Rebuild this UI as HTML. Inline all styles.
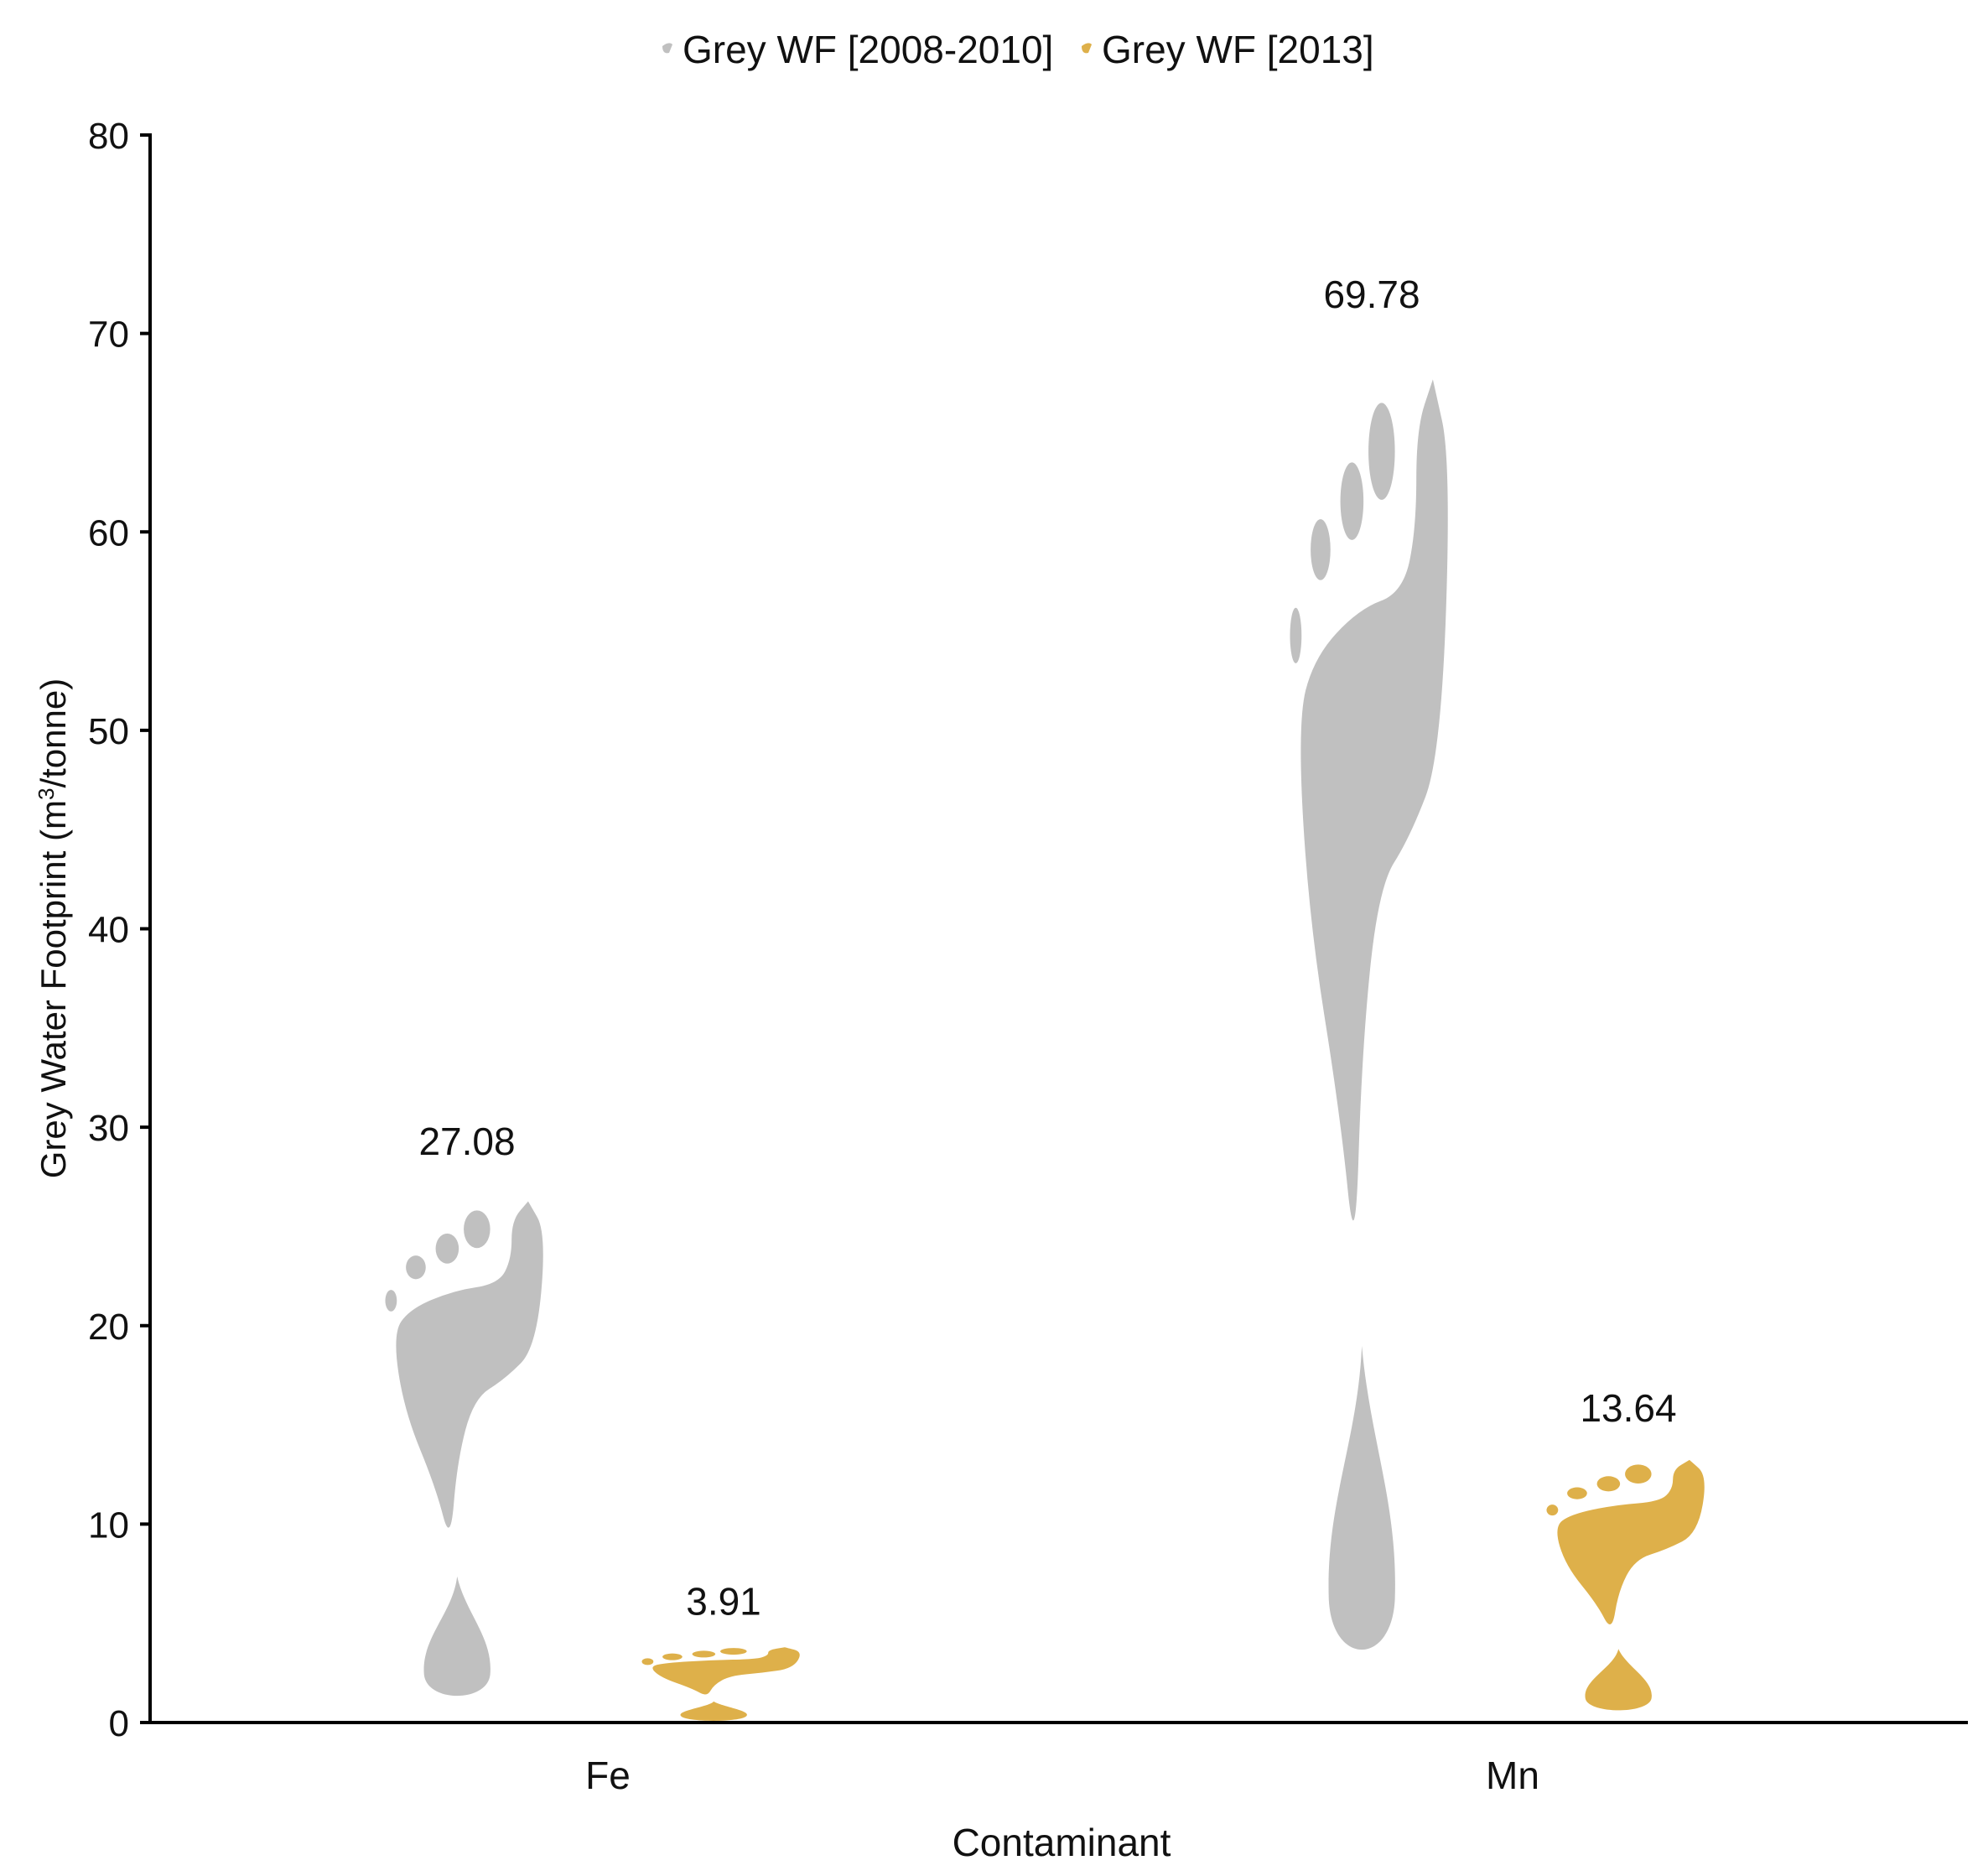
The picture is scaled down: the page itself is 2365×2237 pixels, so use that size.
<!DOCTYPE html>
<html><head><meta charset="utf-8"><style>
html,body{margin:0;padding:0;background:#fff;}
svg{display:block;font-family:"Liberation Sans",sans-serif;}
</style></head><body>
<svg id="chart" width="2365" height="2237" viewBox="0 0 2365 2237">
<g id="legend">
  <g>
    <path d="M790 55 q8 -6 12 -2 l-4 10 q-8 2 -8 -8z" fill="#c0c0c0"/>
    <text x="814" y="75" font-size="46" fill="#111">Grey WF [2008-2010]</text>
  </g>
  <g>
    <path d="M1290 55 q8 -6 12 -2 l-4 10 q-8 2 -8 -8z" fill="#deb04a"/>
    <text x="1314" y="75" font-size="46" fill="#111">Grey WF [2013]</text>
  </g>
</g>
<g id="axes"></g>
<g id="marks"></g>
<text x="1266" y="2213" font-size="46" text-anchor="middle" fill="#111">Contaminant</text>
<text transform="translate(78,1107) rotate(-90)" font-size="42" text-anchor="middle" fill="#111">Grey Water Footprint (m<tspan font-size="26" dy="-14">3</tspan><tspan dy="14">/tonne)</tspan></text>
</svg>
<script>
const categories = ["Fe", "Mn"];
const series2008 = [27.08, 69.78];
const series2013 = [3.91, 13.64];
const yTicks = [0, 10, 20, 30, 40, 50, 60, 70, 80];
const seriesNames = ["Grey WF [2008-2010]", "Grey WF [2013]"];

const NS = "http://www.w3.org/2000/svg";
const x0 = 179, x1 = 2347, y0 = 2054, yTop = 161;
const yMax = 80;
function y(v){ return y0 - v/yMax*(y0-yTop); }
const catCenters = [725, 1804];
function xCat(i){ return catCenters[i]; }
function mk(tag, attrs, parent){ const e=document.createElementNS(NS,tag); for(const k in attrs) e.setAttribute(k,attrs[k]); parent.appendChild(e); return e; }

const axes = document.getElementById('axes');
const ya = mk('line',{x1:x0,y1:yTop-2,x2:x0,y2:y0,stroke:'#000','stroke-width':4},axes);


const xa = mk('line',{x1:x0,y1:y0,x2:x1,y2:y0,stroke:'#000','stroke-width':4},axes);


yTicks.forEach(t=>{
  const tk = mk('line',{x1:x0-12,y1:y(t),x2:x0,y2:y(t),stroke:'#000','stroke-width':4},axes);
  
  
  const tl = mk('text',{x:x0-25,y:y(t)+16,'font-size':44,'text-anchor':'end',fill:'#111'},axes);
  tl.textContent = t;
  
  
});
categories.forEach((c,i)=>{
  const tl = mk('text',{x:xCat(i),y:2133,'font-size':46,'text-anchor':'middle',fill:'#111'},axes);
  tl.textContent = c;
  
  
});

const sole = [[0.87,0.97],[0.98,0.911],[0.92,0.698],[0.73,0.639],[0.54,0.603],[0.44,0.485],[0.40,0.331],[0.31,0.438],[0.12,0.58],[0.05,0.722],[0.15,0.769],[0.42,0.804],[0.69,0.816],[0.77,0.863],[0.77,0.934]];
const toes = [[0.56,0.918,0.08,0.035],[0.38,0.882,0.07,0.028],[0.19,0.847,0.06,0.022],[0.04,0.785,0.035,0.02]];
const W = 197;
const marks = document.getElementById('marks');
function foot(cx, val, color, name){
  const g = mk('g',{},marks);
  
  
  const left = cx - W/2;
  const P = ([u,v]) => [left+u*W, y(v*val)];
  let pts = sole.map(P);
  let d = 'M'+pts[0].join(' ');
  for(let k=0;k<pts.length;k++){
    const a=pts[k], b=pts[(k+1)%pts.length];
    const m=[(a[0]+b[0])/2,(a[1]+b[1])/2];
    d += ' Q'+a.join(' ')+' '+m.join(' ');
  }
  d+='Z';
  mk('path',{d:d,fill:color},g);
  toes.forEach(([u,v,ru,rv])=>{
    mk('ellipse',{cx:left+u*W,cy:y(v*val),rx:ru*W,ry:Math.max(rv*val*23.67,4),fill:color},g);
  });
  const ht=P([0.44,0.272]), hb=P([0.44,0.043]);
  const hh=hb[1]-ht[1];
  const hd='M'+ht.join(' ')+' C'+(ht[0]+10)+' '+(ht[1]+hh*0.3)+' '+(left+0.66*W)+' '+(ht[1]+hh*0.5)+' '+(left+0.64*W)+' '+(ht[1]+hh*0.8)+
    ' C'+(left+0.62*W)+' '+(hb[1]+4)+' '+(left+0.26*W)+' '+(hb[1]+4)+' '+(left+0.24*W)+' '+(ht[1]+hh*0.8)+
    ' C'+(left+0.22*W)+' '+(ht[1]+hh*0.5)+' '+(ht[0]-5)+' '+(ht[1]+hh*0.3)+' '+ht.join(' ')+'Z';
  mk('path',{d:hd,fill:color},g);
  const lb = mk('text',{x:cx,y:y(val+2.2)+16,'font-size':46,'text-anchor':'middle',fill:'#111'},marks);
  lb.textContent = val.toFixed(2);
  
  
}
const off = 153;
const shift = -15;
categories.forEach((c,i)=>{
  foot(xCat(i)-off+shift, series2008[i], '#c0c0c0', 'bar-'+c.toLowerCase()+'-2008-2010');
  foot(xCat(i)+off+shift, series2013[i], '#deb04a', 'bar-'+c.toLowerCase()+'-2013');
});
</script>
</body></html>
